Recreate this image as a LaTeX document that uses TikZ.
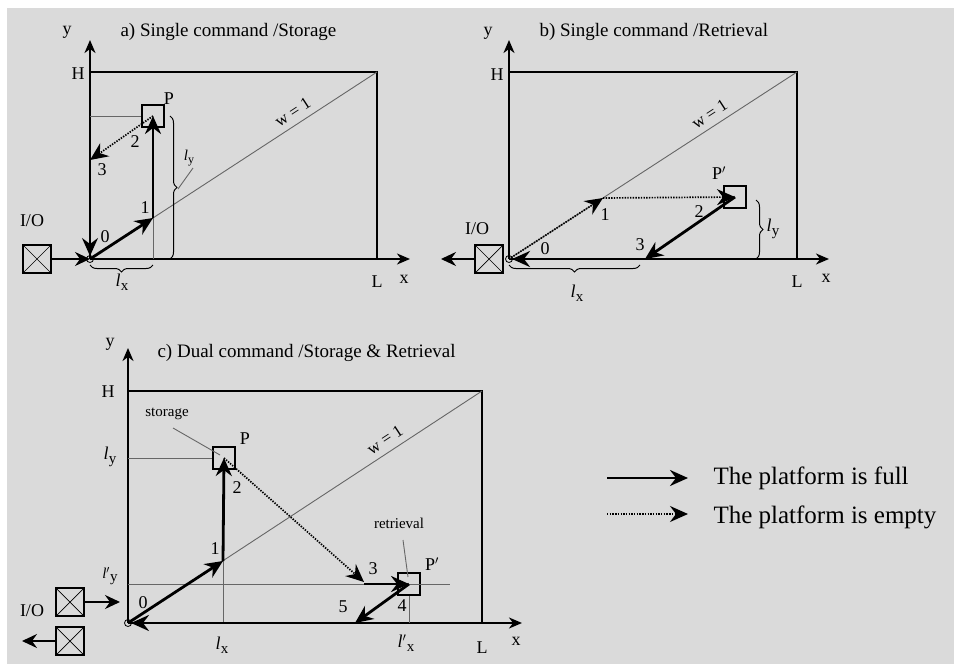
\documentclass[tikz,border=0pt]{standalone}
\usepackage{fontspec}
\setmainfont{Liberation Serif}
\usepackage{tikz}
\usetikzlibrary{positioning,arrows.meta,decorations.pathreplacing,calc}
\definecolor{paper}{HTML}{DADADA}
\definecolor{guide}{HTML}{666666}
\newcommand{\lsub}[2][]{\textit{l}#1\kern0.3pt\raisebox{-0.45ex}{\fontsize{15}{15}\selectfont #2}}

\begin{document}
\begin{tikzpicture}[x=1pt,y=-1pt,
  font=\fontsize{18}{20}\selectfont,
  ax/.style={line width=1.8pt,-{Stealth[length=13pt,width=11pt,inset=4pt]}},
  rack/.style={line width=1.8pt},
  thinl/.style={line width=0.9pt,color=guide},
  wlbl/.style={sloped,above=3pt,text=black,font=\fontsize{17}{19}\selectfont},
  loaded/.style={line width=2.8pt,-{Stealth[length=18pt,width=16pt,inset=6pt]}},
  unloaded/.style={line width=1.7pt,dash pattern=on 1.4pt off 1.3pt,-{Stealth[length=18pt,width=16pt,inset=6pt]}},
  io/.style={line width=2pt,-{Stealth[length=15pt,width=14pt,inset=5pt]}},
  slot/.style={draw,line width=1.5pt,minimum size=22pt,inner sep=0pt},
  iobox/.style={draw,line width=1.5pt,minimum size=28pt,inner sep=0pt,
    path picture={\draw[line width=0.7pt] (path picture bounding box.north west) -- (path picture bounding box.south east)
      (path picture bounding box.north east) -- (path picture bounding box.south west);}},
  pivot/.style={draw,circle,line width=0.8pt,minimum size=7pt,inner sep=0pt},
  brc/.style={decorate,decoration={brace,amplitude=7pt},line width=1pt},
  ttl/.style={anchor=west,font=\fontsize{19}{21}\selectfont},
  small/.style={font=\fontsize{15}{17}\selectfont},
  legend/.style={anchor=west,font=\fontsize{25}{28}\selectfont}]
  \useasboundingbox (0,0) rectangle (954,664);
  \fill[white] (0,0) rectangle (954,664);
  \fill[paper] (7,8) rectangle (954,664);

  % a) single command, storage
  \coordinate (Ao) at (90,259);
  \coordinate (Ay) at (90,40);
  \coordinate (Ax) at (410,259);
  \coordinate (AH) at (90,72);
  \coordinate (AC) at (377,72);
  \coordinate (AL) at (377,259);
  \coordinate (A1) at (153,218);
  \coordinate (A3) at (90,160);
  \node[slot] (AP) at (153,116) {};
  \node[iobox] (Aio) at (37,259) {};
  \draw[ax] (Ao) -- (Ay);
  \draw[ax] (Ao) -- (Ax);
  \draw[rack] (AH) -- (AC) -- (AL);
  \draw[thinl] (Ao) -- node[pos=0.73,wlbl] (Aw) {w = 1} (AC);
  \draw[thinl] (Ao |- AP) -- (AP.west);
  \draw[thinl] (A1) -- (A1 |- Ao);
  \draw[io] (Aio.east) -- (Ao);
  \draw[loaded] (Ao) -- (A1);
  \draw[loaded] (A1) -- (AP.center);
  \draw[unloaded] (AP.center) -- (A3);
  \draw[unloaded] (A3) -- ($(Ao)+(0,-3)$);
  \node[pivot] (Aorg) at (Ao) {};
  \draw[brc] (170,116) -- (170,259);
  \draw[brc] (153,265) -- (90,265);
  \draw[thinl] (178,189) -- (193,168);
  \node[small] (Aly) at (189,158) {\textit{l}\kern0.3pt\raisebox{-0.4ex}{\fontsize{12}{12}\selectfont y}};
  \node (Alx) at (122,282) {\lsub{x}};
  \node[ttl] (Attl) at (117,32) {a) Single command /Storage};

  % b) single command, retrieval
  \coordinate (Bo) at (509,259);
  \coordinate (By) at (509,40);
  \coordinate (Bx) at (829,259);
  \coordinate (BH) at (509,72);
  \coordinate (BC) at (797,72);
  \coordinate (BL) at (797,259);
  \coordinate (B1) at (603,198);
  \coordinate (B3) at (645,259);
  \node[slot] (BP) at (735,197) {};
  \node[iobox] (Bio) at (489,259) {};
  \draw[ax] (Bo) -- (By);
  \draw[ax] (Bo) -- (Bx);
  \draw[rack] (BH) -- (BC) -- (BL);
  \draw[thinl] (Bo) -- node[pos=0.72,wlbl] (Bw) {w = 1} (BC);
  \draw[unloaded] (Bo) -- (B1);
  \draw[unloaded] (B1) -- (BP.center);
  \draw[loaded] (BP.center) -- (B3);
  \draw[loaded] (B3) -- ($(Bo)+(3,0)$);
  \draw[io] (Bio.west) -- (441,259);
  \node[pivot] (Borg) at (Bo) {};
  \draw[brc] (756,200) -- (756,259);
  \draw[brc] (640,265) -- (509,265);
  \node (Bly) at (773,229) {\lsub{y}};
  \node (Blx) at (577,293) {\lsub{x}};
  \node[ttl] (Bttl) at (536,32) {b) Single command /Retrieval};

  % c) dual command, storage & retrieval
  \coordinate (Co) at (128,623);
  \coordinate (Cy) at (128,348);
  \coordinate (Cx) at (522,623);
  \coordinate (CH) at (128,391);
  \coordinate (CC) at (482,391);
  \coordinate (CL) at (482,623);
  \coordinate (C1) at (223,561);
  \coordinate (C3) at (364,582);
  \coordinate (C5) at (355,623);
  \node[slot] (CP) at (224,458) {};
  \node[slot] (CQ) at (409,584) {};
  \node[iobox] (Cin) at (70,602) {};
  \node[iobox] (Cout) at (70,641) {};
  \draw[ax] (Co) -- (Cy);
  \draw[ax] (Co) -- (Cx);
  \draw[rack] (CH) -- (CC) -- (CL);
  \draw[thinl] (Co) -- node[pos=0.745,wlbl] (Cw) {w = 1} (CC);
  \draw[thinl] (Co |- CP) -- (CP.west);
  \draw[thinl] (Co |- CQ) -- (450,584);
  \draw[thinl] (C1) -- (C1 |- Co);
  \draw[thinl] (CQ.south) -- (CQ |- Co);
  \draw[thinl] (173,428) -- (220,455);
  \draw[thinl] (403,540) -- (408,577);
  \draw[loaded] (Co) -- (C1);
  \draw[loaded] (C1) -- (CP.center);
  \draw[unloaded] (CP.center) -- (C3);
  \draw[loaded] (C3 |- CQ) -- (CQ.center);
  \draw[loaded] (CQ.center) -- (C5);
  \draw[loaded] (C5) -- ($(Co)+(3,0)$);
  \draw[io] (Cin.east) -- (120,602);
  \draw[io] (Cout.west) -- (22,641);
  \node[pivot] (Corg) at (Co) {};
  \node[small] (Cst) at (167,414) {storage};
  \node[small] (Crt) at (399,523) {retrieval};
  \node (Cly) at (110,457) {\lsub{y}};
  \node[small] (Clyy) at (110,576) {\lsub[$'$]{y}};
  \node (Clx) at (222,645) {\lsub{x}};
  \node (Clxx) at (406,643) {\lsub[$'$]{x}};
  \node[ttl] (Cttl) at (154,353) {c) Dual command /Storage \& Retrieval};

  % axis letters and step numbers
  \foreach \n/\t/\x/\y in {ay/y/67/32, aH/H/78/74, aL/L/377/282, ax/x/404/279, aP/P/169/99, aio/I\slash O/32/221,
      a0/0/105/237, a1/1/145/208, a2/2/135/142, a3/3/102/170,
      by/y/488/33, bH/H/497/75, bL/L/797/282, bx/x/826/278, bP/P$'$/719/173, bio/I\slash O/477/229,
      b0/0/545/249, b1/1/605/215, b2/2/699/212, b3/3/640/245,
      cy/y/110/344, cH/H/108/392, cL/L/482/648, cx/x/516/641, cP/P/245/439, cQ/P$'$/432/564, cio/I\slash O/32/611,
      c0/0/143/603, c1/1/215/549, c2/2/237/488, c3/3/373/569, c4/4/402/606, c5/5/343/607}
    \node (\n) at (\x,\y) {\t};

  % legend
  \coordinate (fullA) at (607,478);
  \coordinate (fullB) at (688,478);
  \coordinate (voidA) at (607,514);
  \coordinate (voidB) at (688,514);
  \draw[loaded] (fullA) -- (fullB);
  \draw[unloaded] (voidA) -- (voidB);
  \node[legend] (fulltxt) at (710,478) {The platform is full};
  \node[legend] (voidtxt) at (710,517) {The platform is empty};
\end{tikzpicture}
\end{document}
